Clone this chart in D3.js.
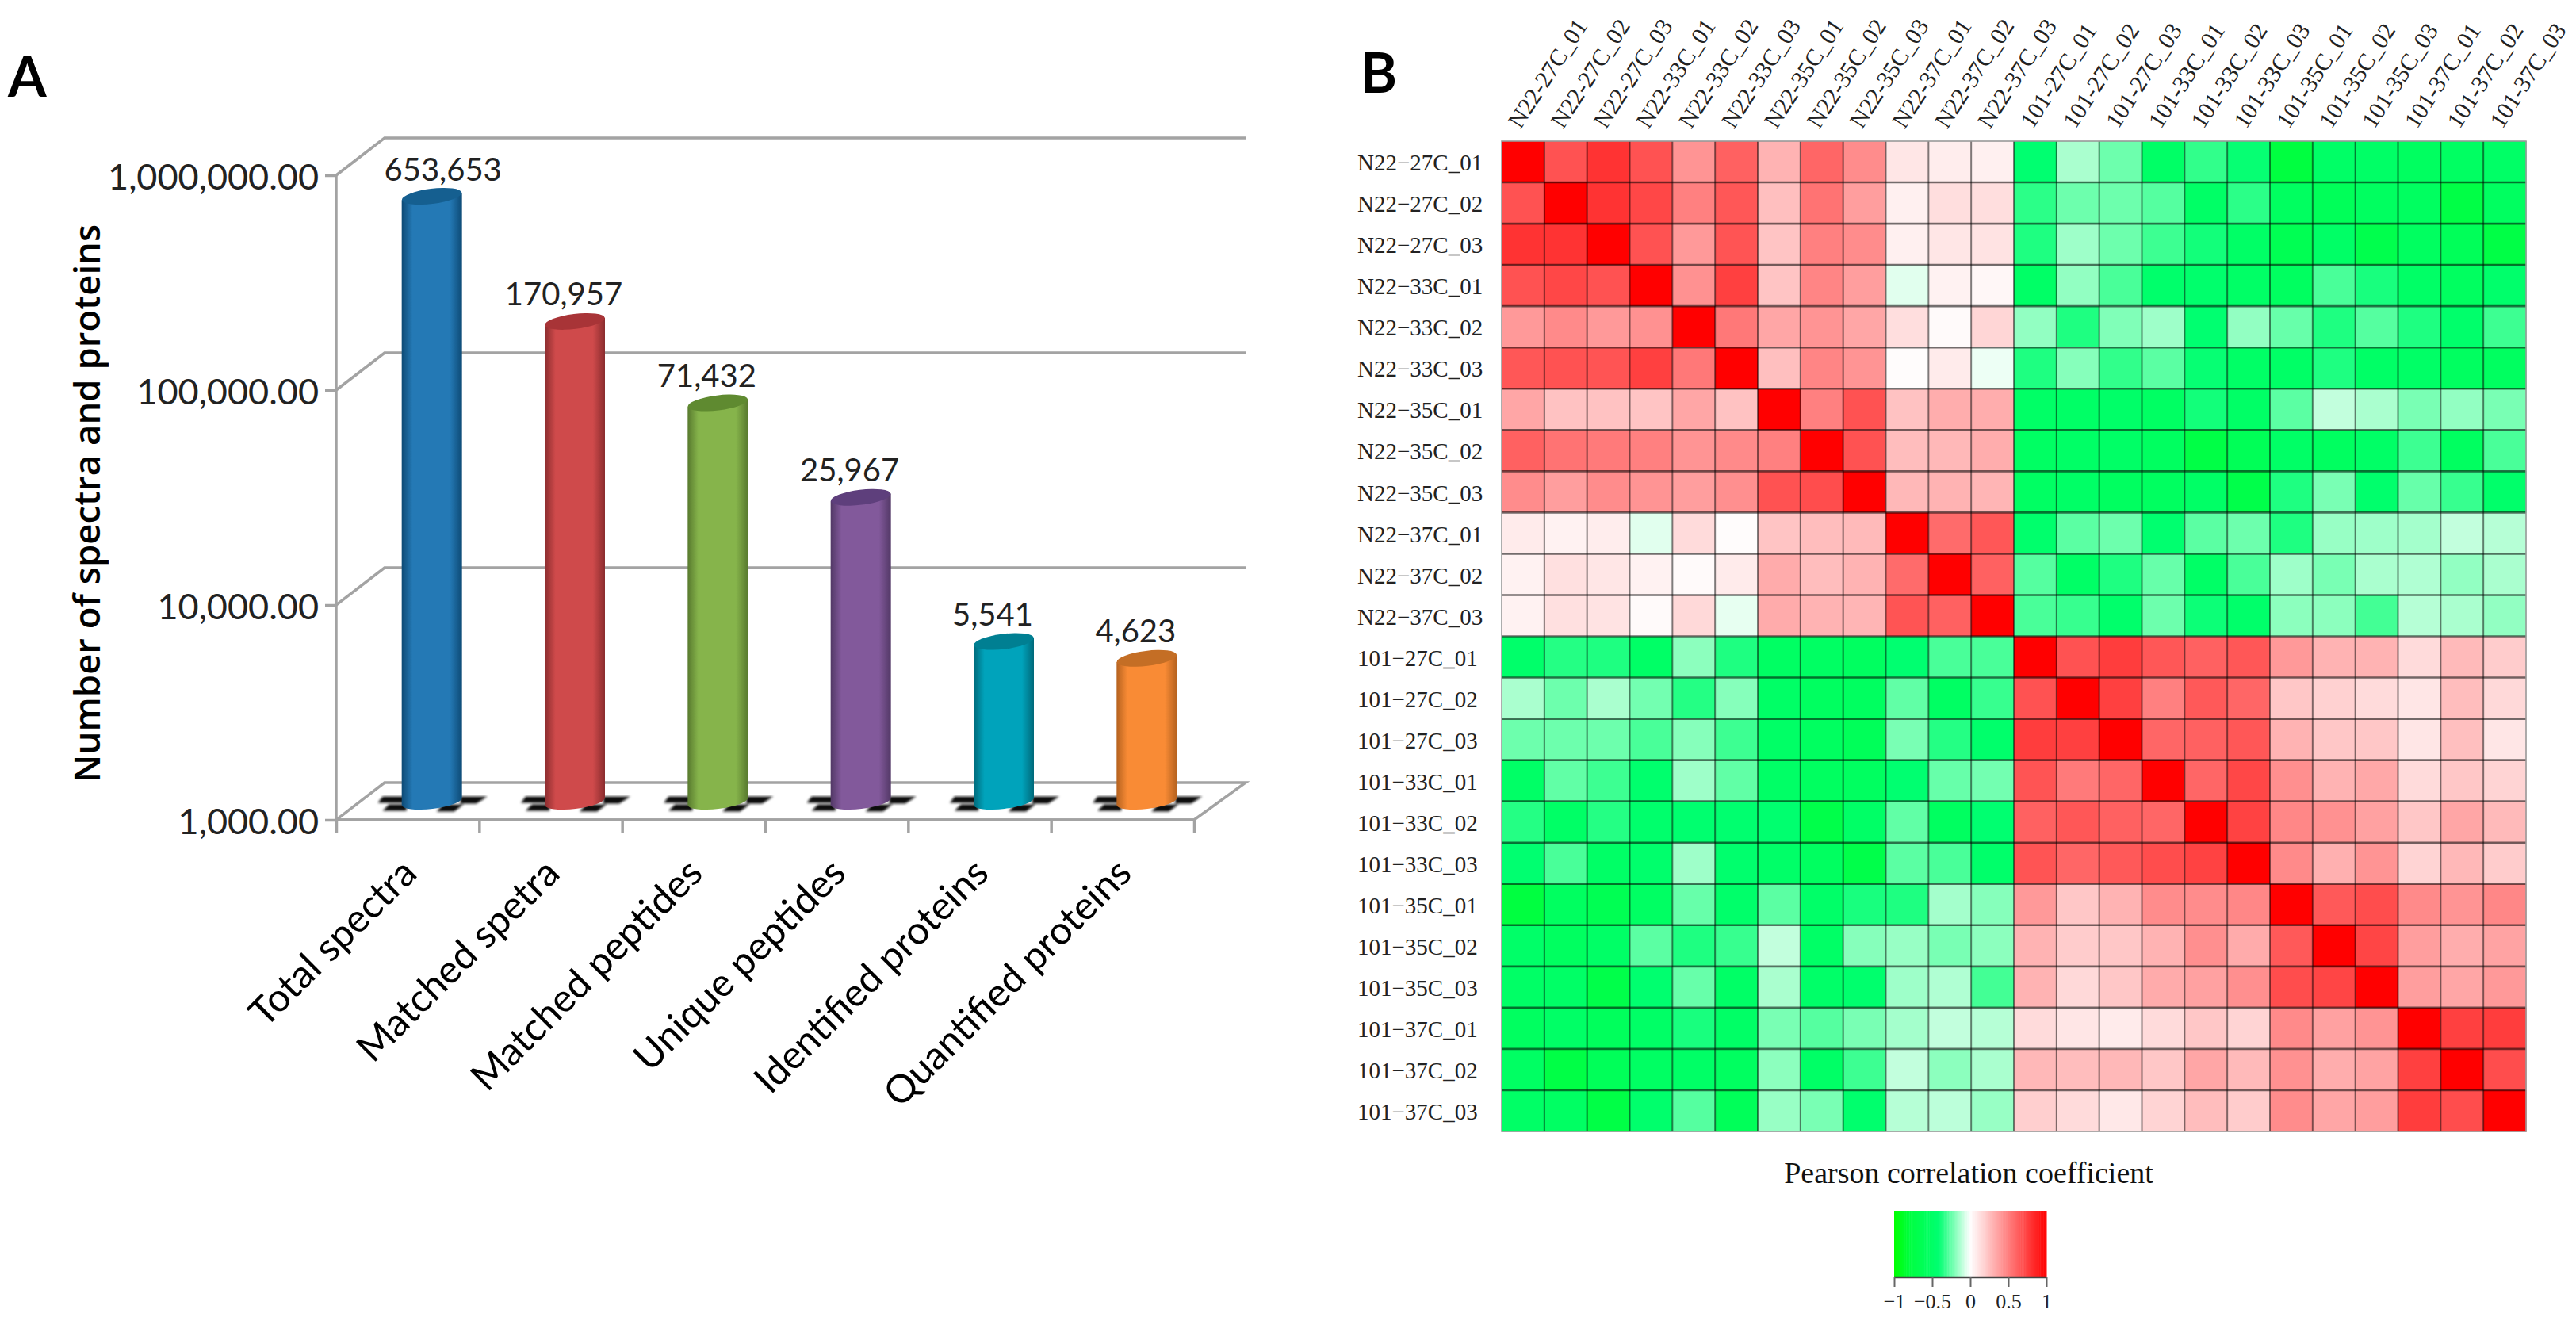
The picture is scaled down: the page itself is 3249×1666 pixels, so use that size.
<!DOCTYPE html>
<html>
<head>
<meta charset="utf-8">
<script src="https://cdn.jsdelivr.net/npm/d3@7"></script>
<style>
  html, body { margin: 0; padding: 0; background: #fff; }
  svg { display: block; }
</style>
</head>
<body>
<div id="figure"></div>
<script>
// Panel A values
const categories = [ 'Total spectra', 'Matched spetra', 'Matched peptides', 'Unique peptides', 'Identified proteins', 'Quantified proteins' ];
const counts = [ 653653, 170957, 71432, 25967, 5541, 4623 ];
const logTicks = [ 1000, 10000, 100000, 1000000 ];

// Panel A colours: side edge, body, top cap
const barEdge = [ '#0d4a75', '#8a2c2e', '#587a2e', '#523866', '#00697a', '#b5621f' ];
const barBody = [ '#2479b5', '#cf4a4b', '#86b44b', '#82599b', '#00a3bb', '#f98b35' ];
const barTop = [ '#155f90', '#a83437', '#5f8a30', '#5e3f7c', '#007f92', '#c46e25' ];

// Panel B labels and values
const samples = [ 'N22-27C_01', 'N22-27C_02', 'N22-27C_03', 'N22-33C_01', 'N22-33C_02', 'N22-33C_03',
  'N22-35C_01', 'N22-35C_02', 'N22-35C_03', 'N22-37C_01', 'N22-37C_02', 'N22-37C_03',
  '101-27C_01', '101-27C_02', '101-27C_03', '101-33C_01', '101-33C_02', '101-33C_03',
  '101-35C_01', '101-35C_02', '101-35C_03', '101-37C_01', '101-37C_02', '101-37C_03' ];

const corr = [
  [ 1, .68, .80, .68, .42, .62, .30, .60, .45, .10, .07, .06, -.42, -.14, -.24, -.50, -.34, -.41, -.80, -.50, -.50, -.55, -.53, -.50 ],
  [ .68, 1, .80, .72, .50, .66, .25, .55, .38, .06, .13, .13, -.35, -.24, -.24, -.28, -.50, -.35, -.55, -.60, -.55, -.55, -.75, -.55 ],
  [ .80, .80, 1, .68, .40, .67, .23, .50, .45, .06, .10, .11, -.37, -.16, -.24, -.32, -.39, -.50, -.65, -.50, -.70, -.55, -.60, -.75 ],
  [ .68, .72, .68, 1, .43, .75, .23, .48, .38, -.05, .05, .03, -.50, -.18, -.30, -.46, -.45, -.50, -.55, -.30, -.38, -.50, -.55, -.46 ],
  [ .40, .46, .40, .43, 1, .53, .35, .42, .35, .13, .02, .16, -.18, -.37, -.21, -.16, -.42, -.18, -.25, -.37, -.28, -.37, -.46, -.32 ],
  [ .66, .68, .67, .75, .53, 1, .25, .48, .42, .01, .08, -.03, -.37, -.20, -.34, -.27, -.41, -.50, -.50, -.37, -.50, -.50, -.55, -.55 ],
  [ .35, .24, .24, .23, .35, .24, 1, .50, .68, .24, .32, .32, -.50, -.50, -.48, -.52, -.39, -.50, -.27, -.10, -.14, -.22, -.18, -.22 ],
  [ .62, .55, .52, .50, .42, .46, .50, 1, .68, .26, .28, .32, -.52, -.50, -.50, -.55, -.75, -.62, -.50, -.55, -.50, -.32, -.55, -.30 ],
  [ .45, .38, .45, .42, .38, .44, .68, .70, 1, .28, .30, .29, -.52, -.50, -.55, -.55, -.50, -.72, -.37, -.22, -.45, -.25, -.33, -.47 ],
  [ .08, .05, .07, -.05, .14, .01, .23, .26, .27, 1, .58, .66, -.45, -.27, -.24, -.43, -.27, -.24, -.37, -.17, -.16, -.15, -.10, -.12 ],
  [ .05, .12, .10, .05, .02, .08, .33, .26, .30, .58, 1, .62, -.28, -.50, -.37, -.25, -.50, -.30, -.16, -.22, -.14, -.13, -.18, -.14 ],
  [ .05, .12, .11, .02, .15, -.04, .33, .30, .29, .67, .62, 1, -.30, -.33, -.46, -.24, -.40, -.47, -.19, -.19, -.31, -.12, -.14, -.18 ],
  [ -.47, -.36, -.37, -.50, -.19, -.37, -.52, -.52, -.55, -.42, -.30, -.30, 1, .68, .76, .66, .62, .66, .40, .30, .30, .14, .27, .20 ],
  [ -.14, -.24, -.14, -.23, -.36, -.20, -.50, -.55, -.55, -.26, -.52, -.33, .68, 1, .75, .50, .65, .60, .22, .18, .14, .10, .26, .15 ],
  [ -.24, -.24, -.24, -.30, -.20, -.32, -.50, -.55, -.60, -.22, -.36, -.46, .76, .75, 1, .60, .62, .66, .30, .22, .22, .10, .25, .10 ],
  [ -.50, -.26, -.32, -.44, -.16, -.26, -.50, -.55, -.55, -.42, -.25, -.23, .67, .52, .60, 1, .60, .72, .44, .30, .34, .14, .22, .17 ],
  [ -.36, -.50, -.36, -.45, -.43, -.43, -.43, -.72, -.50, -.26, -.55, -.42, .62, .66, .62, .60, 1, .74, .47, .43, .37, .22, .35, .27 ],
  [ -.42, -.30, -.50, -.45, -.16, -.44, -.48, -.55, -.72, -.27, -.30, -.47, .67, .60, .65, .70, .74, 1, .46, .31, .42, .17, .28, .20 ],
  [ -.80, -.55, -.65, -.52, -.25, -.47, -.27, -.48, -.38, -.37, -.15, -.20, .40, .22, .30, .45, .45, .47, 1, .65, .70, .46, .42, .47 ],
  [ -.48, -.55, -.50, -.27, -.37, -.33, -.10, -.50, -.20, -.17, -.22, -.19, .30, .20, .22, .30, .44, .33, .65, 1, .73, .38, .32, .36 ],
  [ -.50, -.50, -.72, -.43, -.25, -.50, -.14, -.48, -.44, -.16, -.13, -.31, .30, .15, .22, .33, .37, .44, .70, .73, 1, .38, .35, .40 ],
  [ -.55, -.50, -.58, -.50, -.38, -.50, -.22, -.28, -.22, -.15, -.10, -.12, .14, .10, .08, .14, .22, .17, .46, .37, .42, 1, .75, .76 ],
  [ -.52, -.75, -.60, -.52, -.50, -.55, -.19, -.50, -.32, -.10, -.19, -.14, .28, .26, .28, .22, .35, .27, .43, .32, .36, .75, 1, .70 ],
  [ -.50, -.52, -.75, -.45, -.28, -.60, -.17, -.22, -.44, -.12, -.11, -.17, .19, .14, .09, .17, .26, .20, .45, .35, .38, .76, .70, 1 ]
];

const legendTicks = [ -1, -0.5, 0, 0.5, 1 ];

const figure_width = 3249;
const figure_height = 1666;

const svg = d3.select( '#figure' )
  .append( 'svg' )
    .attr( 'width', figure_width )
    .attr( 'height', figure_height );

const defs = svg.append( 'defs' );
const soft = defs.append( 'filter' ).attr( 'id', 'soft' );
soft.append( 'feGaussianBlur' ).attr( 'stdDeviation', 1.6 );
const softLine = defs.append( 'filter' ).attr( 'id', 'softLine' );
softLine.append( 'feGaussianBlur' ).attr( 'stdDeviation', 0.7 );

const sansFont = 'Lato, Carlito, sans-serif';
const serifFont = '"Liberation Serif", serif';
const lineGrey = '#a3a3a3';

svg.append( 'text' )
  .attr( 'x', 10 ).attr( 'y', 122 )
  .attr( 'style', 'font-size:70px; font-weight:700; font-family:' + sansFont )
  .text( 'A' );
svg.append( 'text' )
  .attr( 'x', 1716 ).attr( 'y', 117 )
  .attr( 'style', 'font-size:70px; font-weight:700; font-family:' + sansFont )
  .text( 'B' );

// ---- Panel A: 3D looking cylinder chart ----

const plot = { left: 424, right: 1506, top: 221, bottom: 1034 };
const depth = { x: 61, y: -47 };

const x = d3.scaleBand()
  .domain( categories )
  .range( [ plot.left, plot.right ] );

const y = d3.scaleLog()
  .domain( [ 1000, 1000000 ] )
  .range( [ plot.bottom, plot.top ] );

const panelA = svg.append( 'g' );

// back wall lines, first segment goes into the depth
panelA.append( 'g' )
  .selectAll( 'path' )
  .data( logTicks.slice( 1 ) )
  .enter()
  .append( 'path' )
    .attr( 'd', function( d ) {
      return 'M' + plot.left + ',' + y( d ) + 'L' + ( plot.left + depth.x ) + ',' + ( y( d ) + depth.y ) + 'L' + ( plot.right + depth.x + 4 ) + ',' + ( y( d ) + depth.y );
    } )
    .attr( 'fill', 'none' )
    .attr( 'stroke', lineGrey )
    .attr( 'stroke-width', 3.5 );

// floor slab
panelA.append( 'path' )
  .attr( 'd', 'M' + plot.left + ',' + plot.bottom + 'L' + plot.right + ',' + plot.bottom + 'L' + ( plot.right + depth.x + 4 ) + ',' + ( plot.bottom + depth.y )
    + 'L' + ( plot.left + depth.x ) + ',' + ( plot.bottom + depth.y ) + 'Z' )
  .attr( 'fill', '#fff' )
  .attr( 'stroke', lineGrey )
  .attr( 'stroke-width', 3.5 );

// left axis
const yAxis = panelA.append( 'g' )
  .attr( 'transform', 'translate(' + plot.left + ',0)' )
  .call( d3.axisLeft( y ).tickValues( logTicks ).tickFormat( d3.format( ',.2f' ) ).tickSize( 14 ).tickPadding( 8 ) );
yAxis.selectAll( 'line, path' ).attr( 'stroke', lineGrey ).attr( 'stroke-width', 3.5 );
yAxis.select( '.domain' ).attr( 'd', 'M0,' + plot.top + 'V' + plot.bottom );
yAxis.selectAll( 'text' )
  .attr( 'fill', '#222' )
  .attr( 'dy', '0.38em' )
  .attr( 'style', 'font-size:45px; font-family:' + sansFont );

// bottom ticks sit on the band edges
const edge = d3.scaleLinear().domain( [ 0, categories.length ] ).range( [ plot.left, plot.right ] );
const xAxis = panelA.append( 'g' )
  .attr( 'transform', 'translate(0,' + plot.bottom + ')' )
  .call( d3.axisBottom( edge ).ticks( categories.length ).tickSize( 16 ).tickFormat( '' ) );
xAxis.selectAll( 'line, path' ).attr( 'stroke', lineGrey ).attr( 'stroke-width', 3.5 );
xAxis.select( '.domain' ).attr( 'd', 'M' + plot.left + ',0H' + plot.right );

// y axis title
svg.append( 'text' )
  .attr( 'transform', 'translate(126,635) rotate(-90)' )
  .attr( 'text-anchor', 'middle' )
  .attr( 'style', 'font-size:45.5px; font-weight:600; font-family:"Open Sans", sans-serif' )
  .text( 'Number of spectra and proteins' );

// category labels
panelA.append( 'g' )
  .selectAll( 'text' )
  .data( categories )
  .enter()
  .append( 'text' )
    .attr( 'transform', function( d ) { return 'translate(' + ( x( d ) + x.bandwidth() / 2 + 14 ) + ',1104) rotate(-45)'; } )
    .attr( 'text-anchor', 'end' )
    .attr( 'style', 'font-size:49px; font-family:' + sansFont )
    .text( function( d ) { return d; } );

// black blotches at the bar feet
const barRx = 38;
const barRy = 9.5;
const tilt = 4.6;
const mid = function( d ) { return x( d ) + x.bandwidth() / 2 + depth.x / 2; };
const baseY = plot.bottom + depth.y / 2;

const blotches = [
  [ [ -54, 4 ], [ -32, 4 ], [ -32, 12 ], [ -62, 12 ] ],
  [ [ -62, -6 ], [ -32, -6 ], [ -32, 2 ], [ -68, 2 ] ],
  [ [ 36, -6 ], [ 70, -6 ], [ 56, 3 ], [ 36, 3 ] ],
  [ [ 14, 4 ], [ 40, 4 ], [ 28, 13 ], [ 6, 13 ] ]
];

panelA.append( 'g' )
  .attr( 'filter', 'url(#soft)' )
  .selectAll( 'g' )
  .data( categories )
  .enter()
  .append( 'g' )
    .attr( 'transform', function( d ) { return 'translate(' + mid( d ) + ',' + baseY + ')'; } )
  .selectAll( 'path' )
  .data( blotches )
  .enter()
  .append( 'path' )
    .attr( 'd', function( d ) { return 'M' + d.join( 'L' ) + 'Z'; } )
    .attr( 'fill', '#111' );

// cylinders
const barGradient = defs.selectAll( 'linearGradient.bar' )
  .data( categories )
  .enter()
  .append( 'linearGradient' )
    .attr( 'class', 'bar' )
    .attr( 'id', function( d, i ) { return 'bar' + i; } );
barGradient.each( function( d, i ) {
  const stops = [ [ 0, barEdge[ i ] ], [ 0.18, barBody[ i ] ], [ 0.5, barBody[ i ] ], [ 0.8, barBody[ i ] ], [ 1, barEdge[ i ] ] ];
  d3.select( this ).selectAll( 'stop' )
    .data( stops )
    .enter()
    .append( 'stop' )
      .attr( 'offset', function( s ) { return s[ 0 ]; } )
      .attr( 'stop-color', function( s ) { return s[ 1 ]; } );
} );

const bars = panelA.append( 'g' )
  .selectAll( 'g' )
  .data( counts )
  .enter()
  .append( 'g' );

bars.append( 'path' )
  .attr( 'd', function( d, i ) {
    const cx = mid( categories[ i ] );
    const top = y( d ) + depth.y / 2;
    return 'M' + ( cx - barRx ) + ',' + ( top + tilt ) + 'L' + ( cx + barRx ) + ',' + ( top - tilt )
      + 'L' + ( cx + barRx ) + ',' + ( baseY - tilt )
      + 'A' + barRx + ',' + barRy + ' -7 0 1 ' + ( cx - barRx ) + ',' + ( baseY + tilt ) + 'Z';
  } )
  .attr( 'fill', function( d, i ) { return 'url(#bar' + i + ')'; } );

bars.append( 'ellipse' )
  .attr( 'rx', barRx )
  .attr( 'ry', barRy )
  .attr( 'transform', function( d, i ) { return 'translate(' + mid( categories[ i ] ) + ',' + ( y( d ) + depth.y / 2 ) + ') rotate(-7)'; } )
  .attr( 'fill', function( d, i ) { return barTop[ i ]; } );

// value labels, the first one was nudged to the right of its bar
bars.append( 'text' )
  .attr( 'x', function( d, i ) { return mid( categories[ i ] ) + ( i === 0 ? 14 : -14 ); } )
  .attr( 'y', function( d ) { return y( d ) + depth.y / 2 - 20; } )
  .attr( 'text-anchor', 'middle' )
  .attr( 'fill', '#222' )
  .attr( 'style', 'font-size:40px; font-family:' + sansFont )
  .text( d3.format( ',' ) );

// ---- Panel B: correlation heatmap ----

const heat = { left: 1894, right: 3186, top: 178, bottom: 1427 };

const colX = d3.scaleBand().domain( samples ).range( [ heat.left, heat.right ] );
const rowY = d3.scaleBand().domain( samples ).range( [ heat.top, heat.bottom ] );

const color = d3.scaleLinear()
  .domain( [ -1, -0.8, -0.42, 0, 1 ] )
  .range( [ '#00ff00', '#00ff40', '#00ff70', '#ffffff', '#ff0000' ] )
  .clamp( true );

const panelB = svg.append( 'g' );

panelB.append( 'g' )
  .selectAll( 'g' )
  .data( corr )
  .enter()
  .append( 'g' )
    .attr( 'transform', function( d, i ) { return 'translate(0,' + rowY( samples[ i ] ) + ')'; } )
  .selectAll( 'rect' )
  .data( function( d ) { return d; } )
  .enter()
  .append( 'rect' )
    .attr( 'x', function( d, i ) { return colX( samples[ i ] ); } )
    .attr( 'width', colX.bandwidth() + 0.5 )
    .attr( 'height', rowY.bandwidth() + 0.5 )
    .attr( 'fill', function( d ) { return color( d ); } );

// grid lines over the cells
const grid = panelB.append( 'g' ).attr( 'filter', 'url(#softLine)' );
grid.selectAll( 'line.v' )
  .data( samples.slice( 1 ) )
  .enter()
  .append( 'line' )
    .attr( 'class', 'v' )
    .attr( 'x1', function( d ) { return colX( d ); } )
    .attr( 'x2', function( d ) { return colX( d ); } )
    .attr( 'y1', heat.top )
    .attr( 'y2', heat.bottom )
    .attr( 'stroke', '#000' )
    .attr( 'stroke-opacity', 0.5 )
    .attr( 'stroke-width', 2 );
grid.selectAll( 'line.h' )
  .data( samples.slice( 1 ) )
  .enter()
  .append( 'line' )
    .attr( 'class', 'h' )
    .attr( 'x1', heat.left )
    .attr( 'x2', heat.right )
    .attr( 'y1', function( d ) { return rowY( d ); } )
    .attr( 'y2', function( d ) { return rowY( d ); } )
    .attr( 'stroke', '#000' )
    .attr( 'stroke-opacity', 0.55 )
    .attr( 'stroke-width', 2.6 );
grid.append( 'rect' )
  .attr( 'x', heat.left )
  .attr( 'y', heat.top )
  .attr( 'width', heat.right - heat.left )
  .attr( 'height', heat.bottom - heat.top )
  .attr( 'fill', 'none' )
  .attr( 'stroke', '#999' )
  .attr( 'stroke-width', 1.6 );

// row labels use a real minus sign, column labels a hyphen
panelB.append( 'g' )
  .selectAll( 'text' )
  .data( samples )
  .enter()
  .append( 'text' )
    .attr( 'x', 1712 )
    .attr( 'y', function( d ) { return rowY( d ) + rowY.bandwidth() / 2 + 1; } )
    .attr( 'dy', '0.35em' )
    .attr( 'fill', '#222' )
    .attr( 'style', 'font-size:29px; font-family:' + serifFont )
    .text( function( d ) { return d.replace( '-', '\u2212' ); } );

panelB.append( 'g' )
  .selectAll( 'text' )
  .data( samples )
  .enter()
  .append( 'text' )
    .attr( 'transform', function( d ) { return 'translate(' + ( colX( d ) + colX.bandwidth() / 2 - 12 ) + ',158) rotate(-57)'; } )
    .attr( 'dy', '0.35em' )
    .attr( 'fill', '#222' )
    .attr( 'style', 'font-size:30px; font-family:' + serifFont )
    .text( function( d ) { return d; } );

// colour key
const key = { left: 2389, right: 2581, top: 1527, bottom: 1611 };
const keyX = d3.scaleLinear().domain( [ -1, 1 ] ).range( [ key.left, key.right ] );

panelB.append( 'g' )
  .selectAll( 'rect' )
  .data( d3.range( -1, 1, 0.02 ) )
  .enter()
  .append( 'rect' )
    .attr( 'x', function( d ) { return keyX( d ); } )
    .attr( 'y', key.top )
    .attr( 'width', keyX( -0.98 ) - keyX( -1 ) + 0.5 )
    .attr( 'height', key.bottom - key.top )
    .attr( 'fill', function( d ) { return color( d + 0.01 ); } );

const keyAxis = panelB.append( 'g' )
  .attr( 'transform', 'translate(0,' + key.bottom + ')' )
  .call( d3.axisBottom( keyX ).tickValues( legendTicks ).tickSize( 12 ).tickPadding( 9 ).tickFormat( function( d ) { return String( d ).replace( '-', '\u2212' ); } ) );
keyAxis.selectAll( 'line' ).attr( 'stroke', '#666' ).attr( 'stroke-width', 2 );
keyAxis.select( '.domain' ).attr( 'stroke', '#444' ).attr( 'stroke-width', 2.5 ).attr( 'd', 'M' + key.left + ',0H' + key.right );
keyAxis.selectAll( 'text' )
  .attr( 'fill', '#222' )
  .attr( 'style', 'font-size:26px; font-family:' + serifFont );

panelB.append( 'text' )
  .attr( 'x', 2483 )
  .attr( 'y', 1492 )
  .attr( 'text-anchor', 'middle' )
  .attr( 'fill', '#111' )
  .attr( 'style', 'font-size:38px; font-family:' + serifFont )
  .text( 'Pearson correlation coefficient' );
</script>
</body>
</html>
